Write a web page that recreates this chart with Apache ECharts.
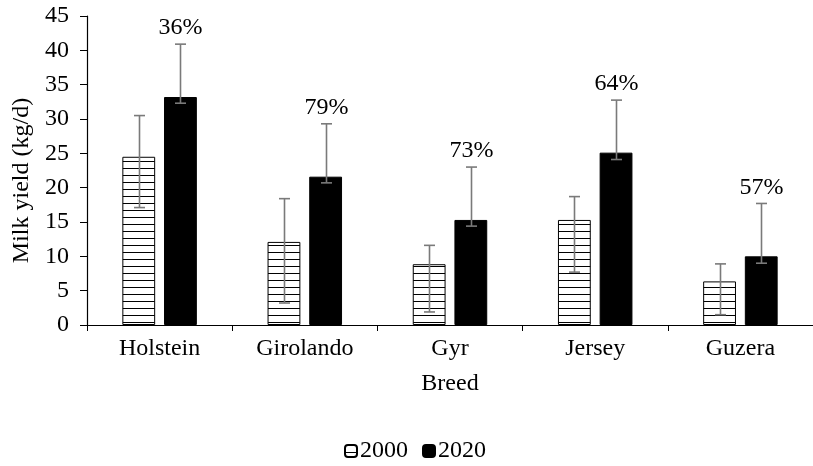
<!DOCTYPE html>
<html>
<head>
<meta charset="utf-8">
<script src="https://cdn.jsdelivr.net/npm/echarts@6/dist/echarts.min.js"></script>
<style>
  html, body { margin: 0; padding: 0; background: #fff; }
  #chart { width: 813px; height: 466px; }
</style>
</head>
<body>
<div id="chart"></div>
<script>
// Average milk yield per breed, 2000 vs 2020
const breeds = ['Holstein', 'Girolando', 'Gyr', 'Jersey', 'Guzera'];
const years = ['2000', '2020'];
const yield2000 = [24.5, 12.1, 8.85, 15.3, 6.35];
const yield2020 = [33.2, 21.6, 15.3, 25.1, 10.0];
// error bar extents (lower, upper) in kg/d
const err2000Low = [17.1, 3.2, 1.9, 7.7, 1.5];
const err2000High = [30.5, 18.4, 11.6, 18.7, 8.9];
const err2020Low = [32.3, 20.7, 14.4, 24.1, 9.0];
const err2020High = [40.9, 29.3, 23.0, 32.75, 17.7];
// increase from 2000 to 2020
const growthLabels = ['36%', '79%', '73%', '64%', '57%'];
const yTicks = { min: 0, max: 45, interval: 5 };

const FONT = 'Liberation Serif, Times New Roman, serif';
const FS = 24;
const BAR_W = 0.226;   // bar width as share of category band
const BAR_GAP = 0.27;  // gap between bars as share of bar width

// horizontal-line hatch fill for the 2000 bars
function hatch() {
  const c = document.createElement('canvas');
  c.width = 8; c.height = 7;
  const g = c.getContext('2d');
  g.fillStyle = '#ffffff';
  g.fillRect(0, 0, 8, 7);
  g.fillStyle = '#000000';
  g.fillRect(0, 0, 8, 1);
  return { image: c, repeat: 'repeat' };
}

function errorBars(side) {
  return function (params, api) {
    const cat = api.value(0);
    const lo = api.coord([cat, api.value(1)]);
    const hi = api.coord([cat, api.value(2)]);
    const band = api.size([1, 0])[0];
    const bw = band * BAR_W;
    const x = Math.round(lo[0] + side * (bw + bw * BAR_GAP) / 2) + 0.5;
    const cap = 5.5;
    const style = { stroke: '#7a7a7a', lineWidth: 1.6 };
    const children = [
      { type: 'line', shape: { x1: x, y1: lo[1], x2: x, y2: hi[1] }, style: style },
      { type: 'line', shape: { x1: x - cap, y1: hi[1], x2: x + cap, y2: hi[1] }, style: style },
      { type: 'line', shape: { x1: x - cap, y1: lo[1], x2: x + cap, y2: lo[1] }, style: style }
    ];
    if (side > 0) {
      children.push({
        type: 'text',
        style: {
          x: x, y: hi[1] - 16,
          text: growthLabels[cat],
          fill: '#000',
          font: FS + 'px ' + FONT,
          align: 'center', verticalAlign: 'middle'
        }
      });
    }
    return { type: 'group', children: children };
  };
}

const chart = echarts.init(document.getElementById('chart'));
chart.setOption({
  animation: false,
  backgroundColor: '#ffffff',
  textStyle: { fontFamily: FONT },
  grid: { left: 87, top: 16, width: 730, height: 309, containLabel: false },
  legend: {
    data: years,
    bottom: -2,
    left: 339,
    itemWidth: 12,
    itemHeight: 12,
    itemGap: 14,
    textStyle: { fontFamily: FONT, fontSize: FS, color: '#000', padding: [0, 0, 0, -2] }
  },
  xAxis: {
    type: 'category',
    data: breeds,
    name: 'Breed',
    nameLocation: 'middle',
    nameGap: 47,
    nameTextStyle: { fontFamily: FONT, fontSize: FS, color: '#000' },
    axisLine: { lineStyle: { color: '#000', width: 1.2 } },
    axisTick: { show: true, length: 6, interval: 0, lineStyle: { color: '#000' } },
    axisLabel: { fontFamily: FONT, fontSize: FS, color: '#000', margin: 12, interval: 0 },
    splitLine: { show: false }
  },
  yAxis: {
    type: 'value',
    min: yTicks.min,
    max: yTicks.max,
    interval: yTicks.interval,
    name: 'Milk yield (kg/d)',
    nameLocation: 'middle',
    nameGap: 50,
    nameTextStyle: { fontFamily: FONT, fontSize: FS, color: '#000', padding: [0, 20, 0, 0] },
    axisLine: { show: true, lineStyle: { color: '#000', width: 1.2 } },
    axisTick: { show: true, length: 7, lineStyle: { color: '#000' } },
    axisLabel: { fontFamily: FONT, fontSize: FS, color: '#000', margin: 18 },
    splitLine: { show: false }
  },
  series: [
    {
      name: '2000',
      type: 'bar',
      data: yield2000,
      barWidth: (BAR_W * 100) + '%',
      barGap: (BAR_GAP * 100) + '%',
      itemStyle: { color: hatch(), borderColor: '#000', borderWidth: 1 }
    },
    {
      name: '2020',
      type: 'bar',
      data: yield2020,
      barWidth: (BAR_W * 100) + '%',
      itemStyle: { color: '#000', borderColor: '#000', borderWidth: 1 }
    },
    {
      name: 'err2000',
      type: 'custom',
      z: 5,
      renderItem: errorBars(-1),
      data: breeds.map((b, i) => [i, err2000Low[i], err2000High[i]])
    },
    {
      name: 'err2020',
      type: 'custom',
      z: 5,
      renderItem: errorBars(1),
      data: breeds.map((b, i) => [i, err2020Low[i], err2020High[i]])
    }
  ]
});
</script>
</body>
</html>
